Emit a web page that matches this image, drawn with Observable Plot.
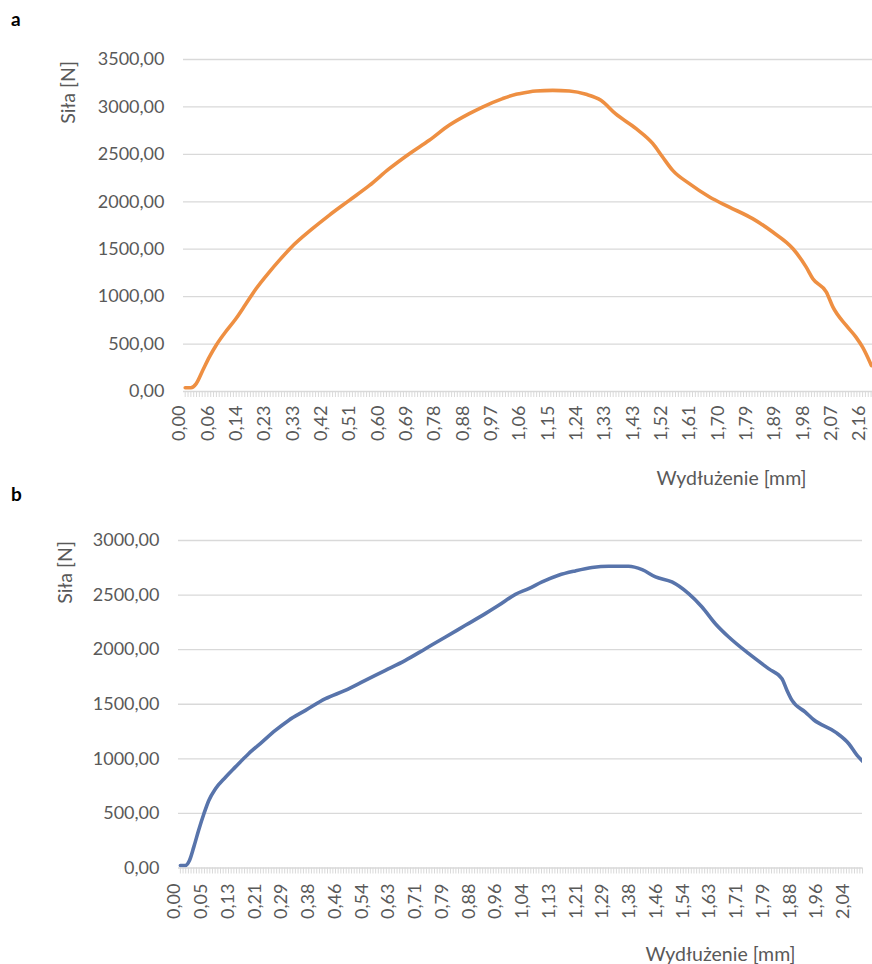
<!DOCTYPE html>
<html>
<head>
<meta charset="utf-8">
<script src="https://cdn.jsdelivr.net/npm/d3@7"></script>
<script src="https://cdn.jsdelivr.net/npm/@observablehq/plot@0.6"></script>
<style>
  body { margin: 0; background: #fff; }
  #wrap { position: relative; width: 872px; height: 964px; overflow: hidden; background: #fff; }
  .panel { position: absolute; left: 0; }
  .tag { position: absolute; font: bold 19px Lato, "Open Sans", sans-serif; color: #000; line-height: 19px; }
</style>
</head>
<body>
<div id="wrap"></div>
<script>
// ---------- Panel a ----------
const xTicksA = ["0,00","0,06","0,14","0,23","0,33","0,42","0,51","0,60","0,69","0,78","0,88","0,97","1,06","1,15","1,24","1,33","1,43","1,52","1,61","1,70","1,79","1,89","1,98","2,07","2,16"];
const yTicksA = [0, 500, 1000, 1500, 2000, 2500, 3000, 3500];
const elongA = [0.000, 0.012, 0.023, 0.037, 0.051, 0.067, 0.090, 0.123, 0.153, 0.185,
  0.227, 0.262, 0.303, 0.374, 0.427, 0.491, 0.555, 0.618, 0.682, 0.745,
  0.811, 0.882, 0.924, 0.988, 1.031, 1.041, 1.094, 1.147, 1.200, 1.253,
  1.300, 1.348, 1.421, 1.475, 1.506, 1.538, 1.591, 1.655, 1.718, 1.792,
  1.863, 1.930, 1.972, 1.993, 2.036, 2.057, 2.099, 2.130, 2.151, 2.179];
const forceA = [39, 40, 81, 221, 362, 485, 609, 767, 925, 1083,
  1259, 1382, 1516, 1716, 1857, 2015, 2173, 2349, 2507, 2648,
  2806, 2929, 2999, 3088, 3133, 3140, 3168, 3175, 3168, 3133,
  3070, 2929, 2771, 2613, 2472, 2331, 2191, 2050, 1944, 1822,
  1681, 1505, 1311, 1189, 1048, 889, 696, 573, 467, 274];

// ---------- Panel b ----------
const xTicksB = ["0,00","0,05","0,13","0,21","0,29","0,38","0,46","0,54","0,63","0,71","0,79","0,88","0,96","1,04","1,13","1,21","1,29","1,38","1,46","1,54","1,63","1,71","1,79","1,88","1,96","2,04"];
const yTicksB = [0, 500, 1000, 1500, 2000, 2500, 3000];
const elongB = [0.000, 0.009, 0.017, 0.025, 0.034, 0.044, 0.055, 0.075, 0.105, 0.134,
  0.174, 0.214, 0.254, 0.294, 0.351, 0.414, 0.473, 0.533, 0.600, 0.663,
  0.723, 0.783, 0.849, 0.912, 0.952, 1.002, 1.042, 1.087, 1.141, 1.191,
  1.241, 1.291, 1.358, 1.401, 1.441, 1.490, 1.540, 1.585, 1.630, 1.670,
  1.730, 1.789, 1.834, 1.851, 1.868, 1.909, 1.934, 1.999, 2.039, 2.064,
  2.081];
const forceB = [23, 23, 69, 191, 344, 497, 619, 726, 832, 924,
  1047, 1153, 1260, 1352, 1444, 1551, 1627, 1719, 1810, 1902,
  2009, 2116, 2223, 2330, 2406, 2507, 2559, 2620, 2681, 2721,
  2752, 2764, 2764, 2733, 2666, 2620, 2513, 2391, 2238, 2116,
  1963, 1826, 1734, 1627, 1535, 1428, 1358, 1245, 1138, 1031,
  976];

const yLabel = "Siła [N]";
const xLabel = "Wydłużenie [mm]";

const FONT = "Lato, 'Open Sans', sans-serif";
const TXT = "#595959";
const GRID = "#d9d9d9";
const fmtY = d => d.toFixed(2).replace(".", ",");

function makePanel(o) {
  const tickVals = o.xTicks.map(s => +s.replace(",", "."));
  // Excel category axis: labels are equally spaced categories
  const toIdx = d3.scaleLinear(tickVals, tickVals.map((_, i) => i));
  const data = o.elong.map((e, i) => ({ i: toIdx(e), f: o.force[i] }));
  const minor = d3.range(Math.ceil(o.xDomain[0] * 10), Math.floor(o.xDomain[1] * 10) + 1).map(k => k / 10);
  return Plot.plot({
    width: 872,
    height: o.height,
    marginLeft: o.marginLeft,
    marginRight: o.marginRight,
    marginTop: o.marginTop,
    marginBottom: o.marginBottom,
    style: { fontFamily: FONT, color: TXT, background: "transparent", overflow: "visible" },
    x: { type: "linear", domain: o.xDomain, axis: null },
    y: { type: "linear", domain: [0, o.yTicks[o.yTicks.length - 1]], axis: null },
    marks: [
      Plot.ruleY(o.yTicks.filter(d => d > 0), { stroke: GRID, strokeWidth: 1.3 }),
      Plot.ruleY([0], { stroke: GRID, strokeWidth: 1.6 }),
      Plot.ruleX(minor, { y1: 0, y2: 0, insetBottom: -6, stroke: GRID, strokeWidth: 1 }),
      Plot.text(o.yTicks, {
        y: d => d, text: fmtY, frameAnchor: "left", textAnchor: "end", dx: -19,
        fontSize: 18, fill: TXT
      }),
      Plot.text(o.xTicks, {
        x: (d, i) => i, text: d => d, frameAnchor: "bottom", rotate: -90, textAnchor: "end",
        dy: o.xLabelGap, fontSize: 18, fill: TXT
      }),
      Plot.line(data, {
        x: "i", y: "f", stroke: o.color, strokeWidth: 3.6, curve: "monotone-x",
        strokeLinejoin: "round", strokeLinecap: "round", clip: true
      }),
      Plot.text([yLabel], {
        text: d => d, frameAnchor: "top-left", rotate: -90,
        textAnchor: "middle", lineAnchor: "middle",
        dx: o.yTitle[0] - o.marginLeft, dy: o.yTitle[1] - o.marginTop,
        fontSize: 19.5, fill: TXT
      }),
      Plot.text([xLabel], {
        text: d => d, frameAnchor: "top-left",
        textAnchor: "middle", lineAnchor: "middle",
        dx: o.xTitle[0] - o.marginLeft, dy: o.xTitle[1] - o.marginTop,
        fontSize: 19.5, fill: TXT
      })
    ]
  });
}

const wrap = document.getElementById("wrap");

const chartA = makePanel({
  xTicks: xTicksA, yTicks: yTicksA, elong: elongA, force: forceA,
  color: "#EE8F42", height: 480, marginTop: 59, marginBottom: 89,
  marginLeft: 183, marginRight: 0, xDomain: [-0.06, 24.25],
  xLabelGap: 14, yTitle: [68, 92], xTitle: [731, 478]
});
chartA.classList.add("panel");
chartA.style.top = "0px";
wrap.appendChild(chartA);

const chartB = makePanel({
  xTicks: xTicksB, yTicks: yTicksB, elong: elongB, force: forceB,
  color: "#5874AB", height: 484, marginTop: 60, marginBottom: 96.5,
  marginLeft: 178, marginRight: 10, xDomain: [-0.07, 25.5],
  xLabelGap: 15.5, yTitle: [65, 572 - 480], xTitle: [720, 954 - 480]
});
chartB.classList.add("panel");
chartB.style.top = "480px";
wrap.appendChild(chartB);

const ta = document.createElement("div");
ta.className = "tag"; ta.textContent = "a"; ta.style.left = "11px"; ta.style.top = "9px";
wrap.appendChild(ta);
const tb = document.createElement("div");
tb.className = "tag"; tb.textContent = "b"; tb.style.left = "11px"; tb.style.top = "484px";
wrap.appendChild(tb);
</script>
</body>
</html>
